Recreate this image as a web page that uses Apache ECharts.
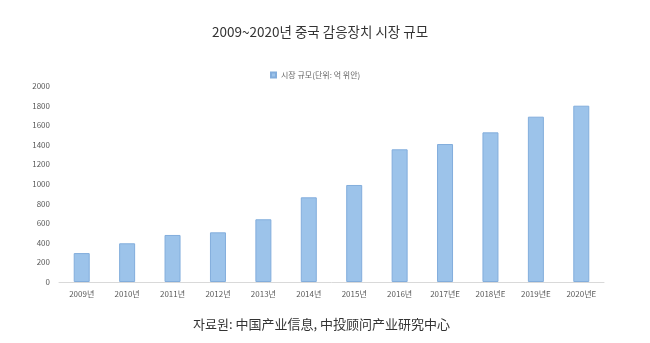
<!DOCTYPE html>
<html><head><meta charset="utf-8">
<script src="https://cdn.jsdelivr.net/npm/echarts@6/dist/echarts.min.js"></script>
<style>html,body{margin:0;padding:0;background:#fff;}#c{width:650px;height:343px;}</style>
</head><body><div id="c"></div>
<script>
const categories = ['2009년','2010년','2011년','2012년','2013년','2014년','2015년','2016년','2017년E','2018년E','2019년E','2020년E'];
const marketSize = [295, 395, 480, 507, 640, 864, 990, 1354, 1408, 1527, 1687, 1799];
const seriesName = '시장 규모(단위: 억 위안)';
const titleText = '2009~2020년 중국 감응장치 시장 규모';
const sourceText = '자료원: 中国产业信息, 中投顾问产业研究中心';

const chart = echarts.init(document.getElementById('c'));
chart.setOption({
  animation: false,
  backgroundColor: '#fff',
  textStyle: { fontFamily: '"Noto Sans CJK KR", "Noto Sans", sans-serif' },
  title: [
    { text: titleText, left: 207, top: 20,
      textStyle: { fontSize: 13.5, fontWeight: 'normal', color: '#333', fontFamily: '"Noto Sans CJK KR", sans-serif' } },
    { text: sourceText, left: 188, bottom: 7,
      textStyle: { fontSize: 13, fontWeight: 'normal', color: '#333', fontFamily: '"Noto Sans CJK KR", sans-serif' } }
  ],
  legend: {
    data: [seriesName], top: 66, left: 265,
    itemWidth: 5, itemHeight: 5, icon: 'rect', itemGap: 4,
    textStyle: { fontSize: 8, color: '#666' }
  },
  grid: { left: 59, right: 46, top: 86, bottom: 61 },
  xAxis: {
    type: 'category', data: categories,
    axisLine: { lineStyle: { color: '#d9d9d9' } },
    axisTick: { show: false },
    axisLabel: { fontSize: 8, color: '#595959', margin: 8 }
  },
  yAxis: {
    type: 'value', min: 0, max: 2000, interval: 200,
    splitLine: { show: false },
    axisLine: { show: false }, axisTick: { show: false },
    axisLabel: { fontSize: 8, color: '#595959', margin: 9, formatter: v => String(v) }
  },
  series: [{
    name: seriesName, type: 'bar', data: marketSize, barWidth: 16,
    itemStyle: { color: '#9cc3ea', borderColor: '#82addc', borderWidth: 1 }
  }]
});
</script></body></html>
